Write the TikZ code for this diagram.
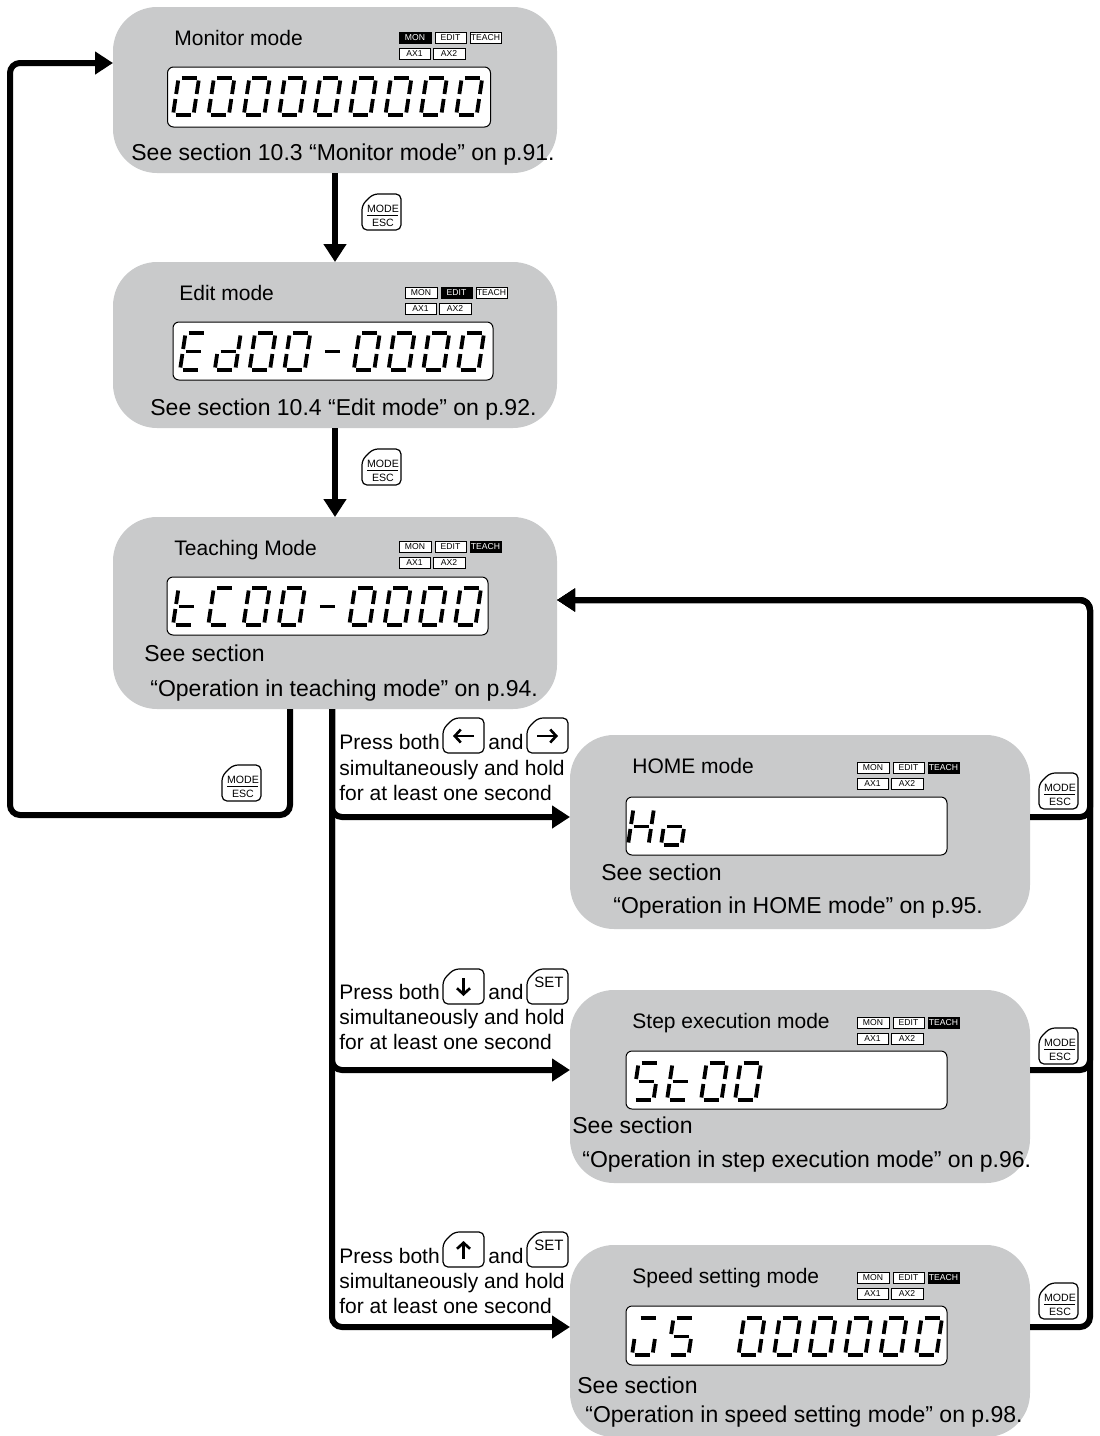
\documentclass[tikz,border=0pt]{standalone}
\usepackage{fontspec}
\setmainfont{Liberation Sans}
\usetikzlibrary{arrows.meta,calc}
\definecolor{boxgray}{RGB}{201,202,203}
\tikzset{
 modebox/.style={fill=boxgray, rounded corners=22pt, inner sep=0pt, outer sep=0pt},
 lcdbox/.style={fill=white, draw=black, line width=0.5pt, rounded corners=3pt, inner sep=0pt},
 flow/.style={line width=3pt, rounded corners=5pt},
 flowarrow/.style={flow, -{Triangle[length=9pt,width=11pt]}},
 seg/.style={line width=1.9pt},
 titletext/.style={font=\fontsize{10.5}{12}\selectfont, anchor=base west, inner sep=0pt},
 reftext/.style={font=\fontsize{11.5}{13}\selectfont, anchor=base west, inner sep=0pt},
 notetext/.style={font=\fontsize{10.5}{12}\selectfont, anchor=base west, inner sep=0pt},
 ind/.style={draw=black, line width=0.4pt, fill=white, minimum height=5.5pt, text height=3.1pt, text depth=0pt, inner sep=0pt, font=\fontsize{4.3}{5}\selectfont},
 indon/.style={ind, fill=black, text=white},
 keyline/.style={draw=black, line width=0.6pt, fill=white, rounded corners=2.5pt},
 keytext/.style={font=\fontsize{5.3}{6}\selectfont, anchor=base, inner sep=0pt},
 settext/.style={font=\fontsize{7.5}{8}\selectfont, inner sep=0pt},
 glyph/.style={line width=1.3pt, -{Straight Barb[length=3pt,width=6.5pt]}},
}
% seven-segment pieces (local units: px, y up, origin bottom-left)
\newcommand\lsegA{\draw[seg] (3,37) -- (18,37);}
\newcommand\lsegB{\draw[seg] (20.5,34.5) -- (20.5,21);}
\newcommand\lsegC{\draw[seg] (20.5,16) -- (20.5,2.5);}
\newcommand\lsegD{\draw[seg] (2.5,0) -- (17.5,0);}
\newcommand\lsegE{\draw[seg] (0,2.5) -- (0,16);}
\newcommand\lsegF{\draw[seg] (0,21) -- (0,34.5);}
\newcommand\lsegG{\draw[seg] (3,18.5) -- (18,18.5);}
\newcommand\lcdchar[3]{\begin{scope}[shift={(#1,#2)},x=0.5pt,y=0.5pt,xslant=0.15]\foreach \s in {#3}{\csname lseg\s\endcsname}\end{scope}}
% indicator block
\newcommand\indicators[6]{%
 \node[#4, minimum width=16pt] (#1-mon) at (#2+16,#3+5.5) {MON};
 \node[#5, minimum width=15.5pt] (#1-edit) at (#2+51.5,#3+5.5) {EDIT};
 \node[#6, minimum width=15.5pt] (#1-teach) at (#2+86.5,#3+5.5) {TEACH};
 \node[ind, minimum width=15.5pt] (#1-ax1) at (#2+15.5,#3+21.5) {AX1};
 \node[ind, minimum width=16pt] (#1-ax2) at (#2+50,#3+21.5) {AX2};}
% key outline: x y w h (top-left, px)
\newcommand\keyshape[4]{\draw[keyline] (#1,#2+#4) -- (#1,#2+11) -- (#1+11,#2) -- (#1+#3,#2) -- (#1+#3,#2+#4) -- cycle;}
\newcommand\modekey[3]{%
 \keyshape{#2}{#3}{39}{36}
 \node[keytext] (#1-m) at (#2+21,#3+18.5) {MODE};
 \draw[line width=0.5pt] (#2+5,#3+21.5) -- (#2+36,#3+21.5);
 \node[keytext] (#1-e) at (#2+21,#3+32) {ESC};}
\begin{document}
\begin{tikzpicture}[x=0.5pt,y=-0.5pt]
\useasboundingbox (0,0) rectangle (1099,1436);
% mode boxes
\node[modebox, minimum width=222pt, minimum height=83pt] (mon) at (335,90) {};
\node[modebox, minimum width=222pt, minimum height=83pt] (edit) at (335,345) {};
\node[modebox, minimum width=222pt, minimum height=96pt] (teach) at (335,613) {};
\node[modebox, minimum width=230pt, minimum height=97pt] (home) at (800,832) {};
\node[modebox, minimum width=230pt, minimum height=96.5pt] (step) at (800,1086.5) {};
\node[modebox, minimum width=230pt, minimum height=96pt] (speed) at (800,1341) {};
% displays
\node[lcdbox, minimum width=161.5pt, minimum height=30pt] (monlcd) at (329,97) {};
\node[lcdbox, minimum width=160pt, minimum height=29pt] (editlcd) at (333,351) {};
\node[lcdbox, minimum width=160.5pt, minimum height=29pt] (teachlcd) at (327.5,606) {};
\node[lcdbox, minimum width=160.5pt, minimum height=29pt] (homelcd) at (786.5,826) {};
\node[lcdbox, minimum width=160.5pt, minimum height=29pt] (steplcd) at (786.5,1080) {};
\node[lcdbox, minimum width=160.5pt, minimum height=29.5pt] (speedlcd) at (786.5,1335.5) {};
% digits
\foreach \i in {0,...,8} {\lcdchar{173+35.4*\i}{115}{A,B,C,D,E,F}}
\lcdchar{180}{370}{A,D,E,F,G}
\lcdchar{180+34.75}{370}{B,C,D,E,G}
\lcdchar{180+34.75*4}{370}{G}
\foreach \i in {2,3,5,6,7,8} {\lcdchar{180+34.75*\i}{370}{A,B,C,D,E,F}}
\lcdchar{173}{625}{D,E,F,G}
\lcdchar{173+35.25}{625}{A,D,E,F}
\lcdchar{173+35.25*4}{625}{G}
\foreach \i in {2,3,5,6,7,8} {\lcdchar{173+35.25*\i}{625}{A,B,C,D,E,F}}
\lcdchar{628}{845}{B,C,E,F,G}
\lcdchar{661}{845}{C,D,E,G}
\lcdchar{633}{1100}{A,C,D,F,G}
\lcdchar{667}{1100}{D,E,F,G}
\lcdchar{701}{1100}{A,B,C,D,E,F}
\lcdchar{735}{1100}{A,B,C,D,E,F}
\lcdchar{632}{1355}{A,C,D,E}
\lcdchar{668}{1355}{A,C,D,F,G}
\foreach \i in {3,...,8} {\lcdchar{632+35.5*\i}{1355}{A,B,C,D,E,F}}
% indicators
\indicators{mi}{399}{32}{indon}{ind}{ind}
\indicators{ei}{405}{287}{ind}{indon}{ind}
\indicators{ti}{399}{541}{ind}{ind}{indon}
\indicators{hi}{857}{762}{ind}{ind}{indon}
\indicators{si}{857}{1017}{ind}{ind}{indon}
\indicators{pi}{857}{1272}{ind}{ind}{indon}
% titles and references
\node[titletext] (mon-t) at (174,45) {Monitor mode};
\node[reftext] (mon-r) at (131,160) {See section 10.3 “Monitor mode” on p.91.};
\node[titletext] (edit-t) at (179,300) {Edit mode};
\node[reftext] (edit-r) at (150,415) {See section 10.4 “Edit mode” on p.92.};
\node[titletext] (teach-t) at (174,555) {Teaching Mode};
\node[reftext] (teach-r1) at (144,661) {See section};
\node[reftext] (teach-r2) at (150,696) {“Operation in teaching mode” on p.94.};
\node[titletext] (home-t) at (632,773) {HOME mode};
\node[reftext] (home-r1) at (601,880) {See section};
\node[reftext] (home-r2) at (613,913) {“Operation in HOME mode” on p.95.};
\node[titletext] (step-t) at (632,1028) {Step execution mode};
\node[reftext] (step-r1) at (572,1133) {See section};
\node[reftext] (step-r2) at (582,1167) {“Operation in step execution mode” on p.96.};
\node[titletext] (speed-t) at (632,1283) {Speed setting mode};
\node[reftext] (speed-r1) at (577,1393) {See section};
\node[reftext] (speed-r2) at (585,1422) {“Operation in speed setting mode” on p.98.};
% connectors
\coordinate (lb) at (10,815);
\coordinate (lt) at (10,63);
\coordinate (rc) at (1090,600);
\draw[flowarrow] (mon.south) -- (edit.north);
\draw[flowarrow] (edit.south) -- (teach.north);
\draw[flowarrow] ([xshift=-22.5pt]teach.south) |- (lb) -- (lt) -- (mon.west |- lt);
\draw[flowarrow] ([xshift=-1.5pt]teach.south) |- ([yshift=7.5pt]home.west);
\draw[flowarrow] ([xshift=-1.5pt]teach.south) |- ([yshift=8.25pt]step.west);
\draw[flowarrow] ([xshift=-1.5pt]teach.south) |- ([yshift=7pt]speed.west);
\draw[flowarrow] ([yshift=7.5pt]home.east) -| (rc) -- (teach.east |- rc);
\draw[flowarrow] ([yshift=8.25pt]step.east) -| (rc) -- (teach.east |- rc);
\draw[flowarrow] ([yshift=7pt]speed.east) -| (rc) -- (teach.east |- rc);
% MODE/ESC keys
\modekey{k1}{362}{194}
\modekey{k2}{362}{449}
\modekey{k3}{222}{765}
\modekey{k4}{1039}{773}
\modekey{k5}{1039}{1028}
\modekey{k6}{1039}{1283}
% key instructions: HOME
\node[notetext] (h-a) at (339,749) {Press both};
\keyshape{443}{718}{41}{35}
\draw[glyph] (474,736) -- (453,736);
\node[notetext] (h-b) at (488,749) {and};
\keyshape{527}{718}{41}{35}
\draw[glyph] (537,736) -- (558,736);
\node[notetext] (h-c) at (339,775) {simultaneously and hold};
\node[notetext] (h-d) at (339,800) {for at least one second};
% Step
\node[notetext] (s-a) at (339,999) {Press both};
\keyshape{443}{969}{41}{35}
\draw[glyph] (463.5,978) -- (463.5,996);
\node[notetext] (s-b) at (488,999) {and};
\keyshape{527}{969}{41}{35}
\node[settext] (s-set) at (549,982) {SET};
\node[notetext] (s-c) at (339,1024) {simultaneously and hold};
\node[notetext] (s-d) at (339,1049) {for at least one second};
% Speed
\node[notetext] (p-a) at (339,1263) {Press both};
\keyshape{443}{1232}{41}{35}
\draw[glyph] (463.5,1259) -- (463.5,1241);
\node[notetext] (p-b) at (488,1263) {and};
\keyshape{527}{1232}{41}{35}
\node[settext] (p-set) at (549,1245) {SET};
\node[notetext] (p-c) at (339,1288) {simultaneously and hold};
\node[notetext] (p-d) at (339,1313) {for at least one second};
\end{tikzpicture}
\end{document}
